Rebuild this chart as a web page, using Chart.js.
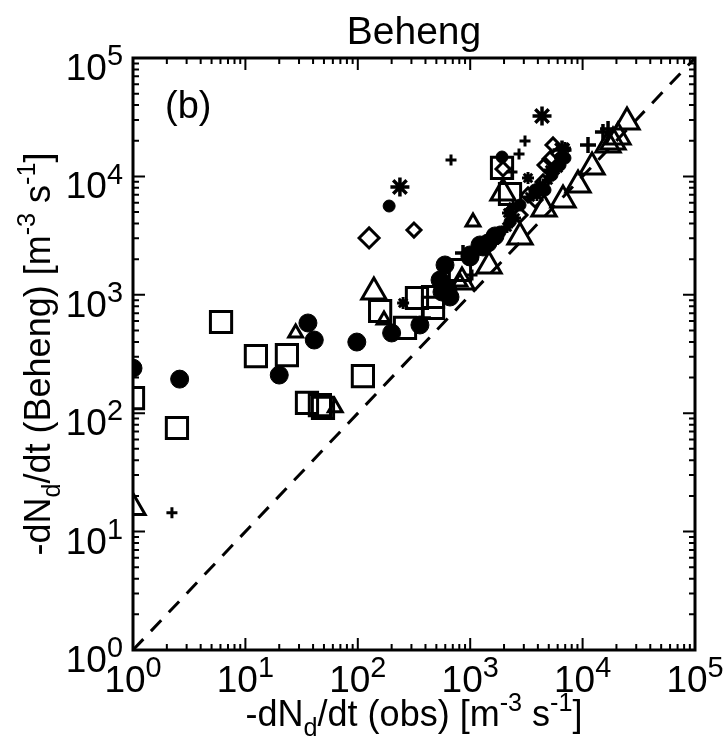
<!DOCTYPE html>
<html>
<head>
<meta charset="utf-8">
<script src="https://cdn.jsdelivr.net/npm/chart.js@4"></script>
<style>
  html, body { margin: 0; padding: 0; background: #fff; }
  #chart { display: block; }
</style>
</head>
<body>
<canvas id="chart" width="725" height="750"></canvas>
<script>
const FONT = '"Liberation Sans", Arial, sans-serif'

// [obs, Beheng] pairs, one list per marker kind
const circleBig = [[1, 240], [2.6, 194], [20, 210], [36, 578], [41, 415], [98, 399], [200, 476], [357, 556],
  [539, 1334], [597, 1786], [561, 1056], [634, 1099], [661, 958], [996, 2170], [996, 2085], [1222, 2635],
  [1300, 2535], [1440, 2740], [1663, 3140]]
const circleSmall = [[190, 5620], [1919, 14580], [6300, 12480], [5340, 10280], [4630, 7680], [2775, 5730],
  [3775, 7680], [5680, 11780], [6970, 14290], [1842, 3390], [2260, 4120]]
const squareBig = [[1, 134], [2.46, 75], [6.07, 589], [12.4, 304], [23.4, 310], [35.3, 122], [46, 117], [49, 111],
  [111, 206], [158, 730], [263, 525], [336, 940], [467, 958], [467, 774], [811, 1620], [1919, 11780], [2260, 7100]]
const triangleBig = [[1, 16], [139, 1056], [845, 1283], [1470, 1750], [1958, 7240], [2775, 3077], [4535, 5306],
  [6693, 6324], [9106, 8460], [12130, 11990], [16840, 18420], [18640, 19530], [20650, 21530], [24830, 28790]]
const triangleSmall = [[28, 476], [63, 111], [171, 612], [1059, 4120], [811, 1283]]
const plusBig = [[11170, 18420], [15180, 23720], [16840, 25140], [863, 2254], [380, 637]]
const plusSmall = [[2.22, 14.4], [675, 13760], [3073, 19910], [2718, 15450], [2354, 10900], [1038, 1469]]
const starBig = [[237, 8130], [4355, 32370], [6560, 16700]]
const starSmall = [[3268, 9690], [2260, 5000], [2125, 3740], [3405, 6700], [253, 853], [5680, 11330],
  [1500, 2900], [2504, 4455], [3930, 6970], [4920, 9330], [6040, 11780], [2170, 4910], [2405, 5520],
  [4180, 8460], [5130, 11330], [6300, 14290], [6970, 17380], [1663, 2900], [1173, 2390]]
const diamondBig = [[126, 3020]]
const diamondSmall = [[316, 3525], [5454, 18420], [5128, 14030], [1958, 11550], [4446, 8970], [3775, 6320],
  [2775, 4720], [4630, 12480], [3268, 6970]]

const oneToOne = [[1, 1], [1e5, 1e5]]
const decades = [0, 1, 2, 3, 4, 5]

// draws text made of plain / superscript / subscript pieces
function richText (ctx, parts, x, y, size, align, supScale = 0.7, supRise = 0.42) {
  const small = size * supScale
  let w = 0
  parts.forEach(p => {
    ctx.font = (p[1] ? small : size) + 'px ' + FONT
    p.w = ctx.measureText(p[0]).width
    w += p.w
  })
  let cx = align === 'center' ? x - w / 2 : align === 'right' ? x - w : x
  ctx.textAlign = 'left'
  ctx.textBaseline = 'alphabetic'
  parts.forEach(p => {
    ctx.font = (p[1] ? small : size) + 'px ' + FONT
    let dy = 0
    if (p[1] === 'sup') dy = -size * supRise
    if (p[1] === 'sub') dy = size * 0.28
    ctx.fillText(p[0], cx, y + dy)
    cx += p.w
  })
}

const frame = {
  id: 'frame',
  afterDatasetsDraw (chart) {
    const { ctx, chartArea: a, scales: { x, y } } = chart
    ctx.save()
    ctx.strokeStyle = '#000'
    ctx.fillStyle = '#000'
    ctx.lineWidth = 2
    decades.forEach(d => {
      for (let m = 1; m <= 9; m++) {
        const v = m * Math.pow(10, d)
        if (v > 1e5) break
        const len = m === 1 ? 12 : 6
        const px = x.getPixelForValue(v)
        const py = y.getPixelForValue(v)
        ctx.beginPath()
        ctx.moveTo(px, a.bottom); ctx.lineTo(px, a.bottom - len)
        ctx.moveTo(px, a.top); ctx.lineTo(px, a.top + len)
        ctx.moveTo(a.left, py); ctx.lineTo(a.left + len, py)
        ctx.moveTo(a.right, py); ctx.lineTo(a.right - len, py)
        ctx.stroke()
      }
    })
    ctx.lineWidth = 3
    ctx.strokeRect(a.left, a.top, a.right - a.left, a.bottom - a.top)

    decades.forEach(d => {
      const v = Math.pow(10, d)
      richText(ctx, [['10'], [String(d), 'sup']], x.getPixelForValue(v), a.bottom + 42, 37, 'center', 0.78, 0.4)
      richText(ctx, [['10'], [String(d), 'sup']], a.left - 10, y.getPixelForValue(v) + 22, 37, 'right', 0.78, 0.4)
    })

    richText(ctx, [['Beheng']], (a.left + a.right) / 2, 44, 39, 'center')
    richText(ctx, [['(b)']], a.left + 32, 118, 38, 'left')
    richText(ctx, [['-dN'], ['d', 'sub'], ['/dt (obs) [m'], ['-3', 'sup'], [' s'], ['-1', 'sup'], [']']],
      (a.left + a.right) / 2, 726, 36, 'center')

    ctx.translate(50, (a.top + a.bottom) / 2)
    ctx.rotate(-Math.PI / 2)
    richText(ctx, [['-dN'], ['d', 'sub'], ['/dt (Beheng) [m'], ['-3', 'sup'], [' s'], ['-1', 'sup'], [']']],
      0, 0, 36, 'center')
    ctx.restore()
  }
}

function pts (list) {
  return list.map(p => ({ x: p[0], y: p[1] }))
}

function markerSet (list, style, r, lw, filled) {
  return {
    type: 'scatter',
    data: pts(list),
    pointStyle: style,
    pointRadius: r,
    pointBorderWidth: lw,
    borderColor: '#000',
    pointBorderColor: '#000',
    pointBackgroundColor: filled ? '#000' : 'rgba(0,0,0,0)',
    showLine: false,
    clip: 0
  }
}

new Chart(document.getElementById('chart'), {
  data: {
    datasets: [
      {
        type: 'line',
        data: pts(oneToOne),
        borderColor: '#000',
        borderWidth: 3,
        borderDash: [15, 11],
        pointRadius: 0,
        clip: 0
      },
      markerSet(squareBig, 'rect', 15, 3, false),
      markerSet(triangleBig, 'triangle', 14, 3, false),
      markerSet(triangleSmall, 'triangle', 8, 3, false),
      markerSet(circleBig, 'circle', 9, 1, true),
      markerSet(circleSmall, 'circle', 6, 1, true),
      markerSet(diamondBig, 'rectRot', 10, 3, false),
      markerSet(diamondSmall, 'rectRot', 7, 3, false),
      markerSet(plusBig, 'cross', 8, 3.5, false),
      markerSet(plusSmall, 'cross', 5.5, 3, false),
      markerSet(starBig, 'star', 9.5, 3.5, false),
      markerSet(starSmall, 'star', 6, 3, false)
    ]
  },
  options: {
    responsive: false,
    animation: false,
    devicePixelRatio: 1,
    events: [],
    layout: { padding: { left: 133, right: 30, top: 58, bottom: 100 } },
    plugins: { legend: { display: false }, tooltip: { enabled: false } },
    scales: {
      x: {
        type: 'logarithmic', min: 1, max: 1e5,
        ticks: { display: false },
        grid: { display: false, drawTicks: false },
        border: { display: false }
      },
      y: {
        type: 'logarithmic', min: 1, max: 1e5,
        ticks: { display: false },
        grid: { display: false, drawTicks: false },
        border: { display: false }
      }
    }
  },
  plugins: [frame]
})
</script>
</body>
</html>
